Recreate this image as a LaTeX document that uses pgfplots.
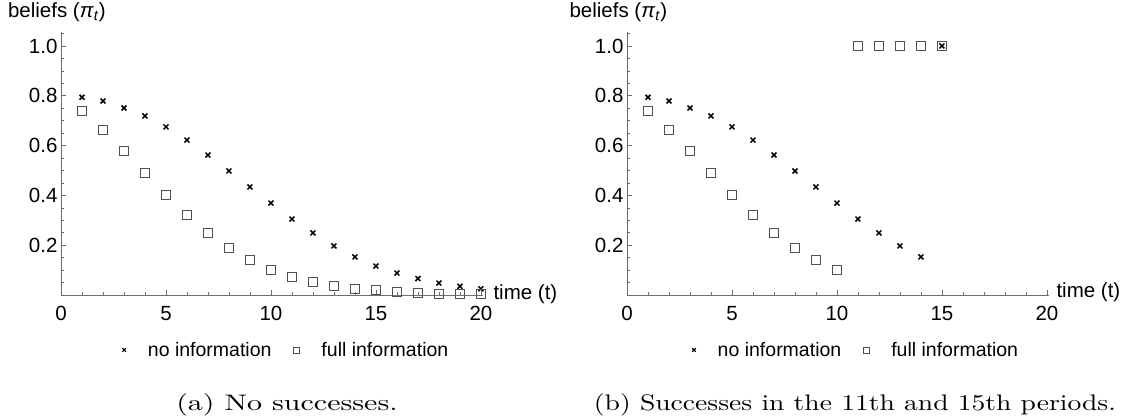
\documentclass[border=0pt]{standalone}
\usepackage{fontspec}
\usepackage{graphicx}
\usepackage{pgfplots}
\pgfplotsset{compat=1.18}
\newfontfamily\arial{Liberation Sans}
\definecolor{axgray}{HTML}{6E6E6E}
\definecolor{sqgray}{HTML}{505050}
\newcommand\chartfont{\arial\fontsize{20.5}{24}\selectfont}
\newcommand\legfont{\arial\fontsize{19.5}{23}\selectfont}

\pgfplotsset{
  beliefstyle/.style={
    scale only axis, width=422pt, height=263pt,
    xmin=0, xmax=20.1, ymin=0, ymax=1.056,
    axis x line=bottom, axis y line=left,
    axis line style={-, axgray, line width=0.8pt},
    every tick/.style={axgray, line width=0.6pt},
    tick align=inside,
    major tick length=5pt, minor tick length=3pt,
    xtick={0,5,10,15,20}, minor xtick={1,2,3,4,6,7,8,9,11,12,13,14,16,17,18,19},
    ytick={0.2,0.4,0.6,0.8,1.0},
    minor ytick={0.05,0.1,0.15,0.25,0.3,0.35,0.45,0.5,0.55,0.65,0.7,0.75,0.85,0.9,0.95,1.05},
    /pgf/number format/assume math mode=true,
    xticklabel style={font=\chartfont, yshift=-8pt},
    yticklabel style={font=\chartfont, /pgf/number format/.cd, fixed, fixed zerofill, precision=1},
    clip=false,
    legend style={font=\legfont, draw=none, fill=none, legend columns=2,
      anchor=center,
      /tikz/every odd column/.append style={column sep=20pt},
      /tikz/every even column/.append style={column sep=20pt}},
    legend cell align=left,
  },
  noinfo/.style={only marks, mark=x, mark size=3.5pt, line width=1.5pt, black},
  fullinfo/.style={only marks, mark=square, mark size=4.5pt, line width=1pt, sqgray},
}

\begin{document}
\begin{tikzpicture}
\useasboundingbox (0,0) rectangle (1135pt,-419pt);

% ---------- (a) ----------
\begin{axis}[beliefstyle, at={(61pt,-295pt)}, anchor=south west,
  legend style={at={(axis description cs:0.534,-0.209)}}]
\addlegendimage{only marks, mark=x, mark size=2.5pt, line width=1.2pt, black}
\addlegendentry{no information}
\addlegendimage{only marks, mark=square, mark size=3pt, line width=0.8pt, sqgray}
\addlegendentry{full information}
\addplot[noinfo, forget plot] coordinates {
(1,0.794) (2,0.779) (3,0.751) (4,0.719) (5,0.675) (6,0.622) (7,0.562) (8,0.498)
(9,0.434) (10,0.369) (11,0.305) (12,0.249) (13,0.197) (14,0.153) (15,0.116)
(16,0.088) (17,0.066) (18,0.048) (19,0.035) (20,0.025)};
\addplot[fullinfo, forget plot] coordinates {
(1,0.737) (2,0.662) (3,0.578) (4,0.490) (5,0.402) (6,0.320) (7,0.248) (8,0.187)
(9,0.139) (10,0.101) (11,0.073) (12,0.053) (13,0.037) (14,0.026) (15,0.019)
(16,0.013) (17,0.009) (18,0.006) (19,0.005) (20,0.003)};
\end{axis}

% ---------- (b) ----------
\begin{axis}[beliefstyle, at={(627pt,-295pt)}, anchor=south west,
  legend style={at={(axis description cs:0.543,-0.209)}}]
\addlegendimage{only marks, mark=x, mark size=2.5pt, line width=1.2pt, black}
\addlegendentry{no information}
\addlegendimage{only marks, mark=square, mark size=3pt, line width=0.8pt, sqgray}
\addlegendentry{full information}
\addplot[noinfo, forget plot] coordinates {
(1,0.794) (2,0.779) (3,0.751) (4,0.719) (5,0.675) (6,0.622) (7,0.562) (8,0.498)
(9,0.434) (10,0.369) (11,0.305) (12,0.249) (13,0.197) (14,0.153) (15,1.0)};
\addplot[fullinfo, forget plot] coordinates {
(1,0.737) (2,0.662) (3,0.578) (4,0.490) (5,0.402) (6,0.320) (7,0.248) (8,0.187)
(9,0.139) (10,0.101) (11,1.0) (12,1.0) (13,1.0) (14,1.0) (15,1.0)};
\end{axis}

% axis labels
\node[anchor=base west, font=\chartfont] at (4.5pt,-17.5pt) {beliefs (\textit{π}\textsubscript{\textit{t}})};
\node[anchor=base west, font=\chartfont] at (566pt,-17.5pt) {beliefs (\textit{π}\textsubscript{\textit{t}})};
\node[anchor=base west, font=\chartfont] at (490pt,-300pt) {time (t)};
\node[anchor=base west, font=\chartfont] at (1053pt,-298pt) {time (t)};

% captions
\node at (287pt,-405pt) {\scalebox{3.0}[2.25]{\fontsize{10}{12}\selectfont (a) No successes.}};
\node at (855pt,-405pt) {\scalebox{2.76}[2.25]{\fontsize{10}{12}\selectfont (b) Successes in the 11th and 15th periods.}};
\end{tikzpicture}
\end{document}
